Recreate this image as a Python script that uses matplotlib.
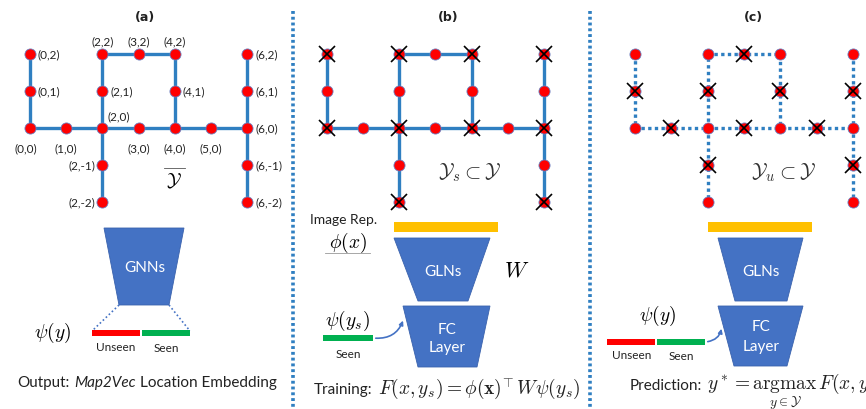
import matplotlib.pyplot as plt
from matplotlib.patches import Polygon, Rectangle, FancyArrowPatch

plt.rcParams['font.family'] = ['Lato', 'DejaVu Sans']
plt.rcParams['mathtext.fontset'] = 'cm'

# map nodes (grid coordinates)
node_x = [0, 0, 0, 1, 2, 2, 2, 3, 4, 4, 4, 3, 5, 6, 6, 6, 6, 6, 2, 2]
node_y = [0, 1, 2, 0, 0, 1, 2, 2, 2, 1, 0, 0, 0, 0, 1, 2, -1, -2, -1, -2]
# roads joining the nodes
paths = [
    [(0, 2), (0, 1), (0, 0), (1, 0), (2, 0), (3, 0), (4, 0), (5, 0), (6, 0)],
    [(2, 0), (2, 1), (2, 2), (3, 2), (4, 2), (4, 1), (4, 0)],
    [(2, 0), (2, -1), (2, -2)],
    [(6, 2), (6, 1), (6, 0), (6, -1), (6, -2)],
]
# seen locations (crossed in panel b); the rest are unseen (crossed in c)
seen = [(0, 2), (0, 0), (2, 2), (4, 2), (2, 0), (4, 0), (6, 2), (6, 0), (2, -2), (6, -2)]
# where each coordinate label sits relative to its node
label_side = {(0, 2): 'r', (0, 1): 'r', (0, 0): 'bl', (1, 0): 'b', (2, 0): 'ar',
              (2, 1): 'r', (2, 2): 'a', (3, 2): 'a', (4, 2): 'a', (4, 1): 'r',
              (3, 0): 'b', (4, 0): 'b', (5, 0): 'b', (6, 0): 'r', (6, 1): 'r',
              (6, 2): 'r', (6, -1): 'r', (6, -2): 'r', (2, -1): 'l', (2, -2): 'l'}

BLUE = '#2f7fc1'
NET = '#4472c4'
RED = '#ff0000'
GREEN = '#00b050'
YELLOW = '#ffc000'
INK = '#222222'

fig = plt.figure(figsize=(8.66, 4.10), dpi=100)
ax = fig.add_axes([0, 0, 1, 1])
ax.set_xlim(0, 866)
ax.set_ylim(410, 0)
ax.axis('off')
renderer = fig.canvas.get_renderer()


def graph_axes(x0, y0, sx, sy):
    left, right = x0 - 0.5 * sx, x0 + 6.5 * sx
    top, bottom = y0 - 2.5 * sy, y0 + 2.5 * sy
    g = fig.add_axes([left / 866, 1 - bottom / 410, (right - left) / 866, (bottom - top) / 410])
    g.set_xlim(-0.5, 6.5)
    g.set_ylim(-2.5, 2.5)
    g.axis('off')
    return g


def draw_graph(g, ls, crossed):
    for p in paths:
        g.plot([q[0] for q in p], [q[1] for q in p], color=BLUE, lw=2.4, ls=ls,
               solid_capstyle='butt', zorder=1, clip_on=False)
    g.plot(node_x, node_y, 'o', ms=8, mfc=RED, mec='#6a7fc0', mew=0.6, zorder=2, clip_on=False)
    if crossed:
        g.plot([c[0] for c in crossed], [c[1] for c in crossed], 'x', ms=12, mew=1.2,
               color='black', zorder=3, clip_on=False)


def text_run(x, y, pieces, center=False):
    # pieces: (string, gap_after, kwargs); laid out left to right on one baseline
    items = []
    for s, gap, kw in pieces:
        t = ax.text(x, y, s, ha='left', va='baseline', color=INK, **kw)
        items.append((t, t.get_window_extent(renderer).width, gap))
    total = sum(w + g for _, w, g in items) - items[-1][2]
    cx = x - total / 2 if center else x
    for t, w, g in items:
        t.set_x(cx)
        cx += w + g


# panel dividers
for xd in [293, 590]:
    ax.plot([xd, xd], [12, 410], color=BLUE, lw=2.6, ls=(0, (0.8, 0.8)))

# panel titles
for xt, t in [(145, '(a)'), (448, '(b)'), (753, '(c)')]:
    ax.text(xt, 18, t, ha='center', va='center', fontsize=9, fontweight='bold',
            family='DejaVu Sans', color=INK)

# ---- (a) ----
ga = graph_axes(30, 129, 36.2, 37)
draw_graph(ga, '-', None)
offs = {'r': (8, 0, 'left', 'center'), 'l': (-7, 0, 'right', 'center'),
        'b': (0, -20, 'center', 'center'), 'bl': (-4, -20, 'center', 'center'),
        'a': (0, 13, 'center', 'center'), 'ar': (16, 12, 'center', 'center')}
for (nx, ny), side in label_side.items():
    dx, dy, ha, va = offs[side]
    ga.annotate(f'({nx},{ny})', (nx, ny), xytext=(dx, dy), textcoords='offset pixels',
                ha=ha, va=va, fontsize=8.5, color=INK)
ax.text(174, 181, r'$\mathcal{Y}$', ha='center', va='center', fontsize=14)
ax.plot([164, 185], [169, 169], color='#555555', lw=0.6)

# GNN block
ax.add_patch(Polygon([(104, 229), (184, 229), (169, 306), (119, 306)], closed=True,
                     fc=NET, ec='#3a62ad', lw=0.6))
ax.text(145, 268, 'GNNs', ha='center', va='center', color='white', fontsize=11)
ax.plot([119, 92], [306, 332], color=NET, lw=1.2, ls=(0, (1, 1.5)))
ax.plot([169, 190], [306, 332], color=NET, lw=1.2, ls=(0, (1, 1.5)))
ax.add_patch(Rectangle((92, 331), 48, 6, color=RED, lw=0))
ax.add_patch(Rectangle((142, 331), 48, 6, color=GREEN, lw=0))
ax.text(116, 348, 'Unseen', ha='center', va='center', fontsize=8.5, color=INK)
ax.text(166, 349, 'Seen', ha='center', va='center', fontsize=8.5, color=INK)
ax.text(53, 333, r'$\psi(y)$', ha='center', va='center', fontsize=14)
text_run(147, 387, [('Output:', 4, dict(fontsize=11)),
                    ('Map2Vec', 4, dict(fontsize=11, fontstyle='italic')),
                    ('Location Embedding', 0, dict(fontsize=11))], center=True)

# ---- (b) ----
gb = graph_axes(326.7, 129, 36.2, 37)
draw_graph(gb, '-', seen)
ax.text(470, 173, r'$\mathcal{Y}_s\subset\mathcal{Y}$', ha='center', va='center', fontsize=15,
        color='#333333')
ax.text(310, 220, 'Image Rep.', ha='left', va='center', fontsize=10, color=INK)
ax.text(348, 243, r'$\phi(x)$', ha='center', va='center', fontsize=14)
ax.plot([325, 370], [254, 254], color='#999999', lw=0.6)
ax.add_patch(Rectangle((394, 223), 104, 10, color=YELLOW, lw=0))
ax.add_patch(Polygon([(394, 239), (490, 239), (468, 302), (418, 302)], closed=True,
                     fc=NET, ec='#3a62ad', lw=0.6))
ax.text(443, 272, 'GLNs', ha='center', va='center', color='white', fontsize=11)
ax.add_patch(Polygon([(403, 307), (490, 307), (477, 368), (418, 368)], closed=True,
                     fc=NET, ec='#3a62ad', lw=0.6))
ax.text(447, 330, 'FC', ha='center', va='center', color='white', fontsize=11)
ax.text(447, 348, 'Layer', ha='center', va='center', color='white', fontsize=11)
ax.text(517, 271, r'$W$', ha='center', va='center', fontsize=16)
ax.text(348, 321, r'$\psi(y_s)$', ha='center', va='center', fontsize=14)
ax.add_patch(Rectangle((323, 336), 50, 6, color=GREEN, lw=0))
ax.text(348, 355, 'Seen', ha='center', va='center', fontsize=8.5, color=INK)
ax.add_patch(FancyArrowPatch((373, 339), (404, 319), connectionstyle='arc3,rad=0.4',
                             arrowstyle='-|>', mutation_scale=6, color=NET, lw=1.2))
text_run(314, 394, [('Training:', 5, dict(fontsize=11)),
                    (r'$F(x,y_s)=\phi(\mathbf{x})^{\!\top}W\psi(y_s)$', 0, dict(fontsize=14))])

# ---- (c) ----
gc = graph_axes(635, 129, 36.3, 37)
draw_graph(gc, (0, (1, 1)), [(x, y) for x, y in zip(node_x, node_y) if (x, y) not in seen])
ax.text(783, 173, r'$\mathcal{Y}_u\subset\mathcal{Y}$', ha='center', va='center', fontsize=15,
        color='#333333')
ax.add_patch(Rectangle((708, 223), 104, 10, color=YELLOW, lw=0))
ax.add_patch(Polygon([(718, 239), (803, 239), (787, 302), (735, 302)], closed=True,
                     fc=NET, ec='#3a62ad', lw=0.6))
ax.text(761, 272, 'GLNs', ha='center', va='center', color='white', fontsize=11)
ax.add_patch(Polygon([(718, 307), (803, 307), (787, 367), (734, 367)], closed=True,
                     fc=NET, ec='#3a62ad', lw=0.6))
ax.text(761, 327, 'FC', ha='center', va='center', color='white', fontsize=11)
ax.text(761, 347, 'Layer', ha='center', va='center', color='white', fontsize=11)
ax.text(658, 316, r'$\psi(y)$', ha='center', va='center', fontsize=14)
ax.add_patch(Rectangle((607, 340), 48, 6, color=RED, lw=0))
ax.add_patch(Rectangle((657, 340), 48, 6, color=GREEN, lw=0))
ax.text(632, 356, 'Unseen', ha='center', va='center', fontsize=8.5, color=INK)
ax.text(681, 357, 'Seen', ha='center', va='center', fontsize=8.5, color=INK)
ax.add_patch(FancyArrowPatch((705, 343), (722, 327), connectionstyle='arc3,rad=0.4',
                             arrowstyle='-|>', mutation_scale=6, color=NET, lw=1.2))
text_run(630, 390, [('Prediction:', 5, dict(fontsize=11)),
                    (r'$y^*=\underset{y\in\mathcal{Y}}{\mathrm{argmax}}\,F(x,y)$', 0,
                     dict(fontsize=14))])

fig.savefig('out.png', dpi=100)
